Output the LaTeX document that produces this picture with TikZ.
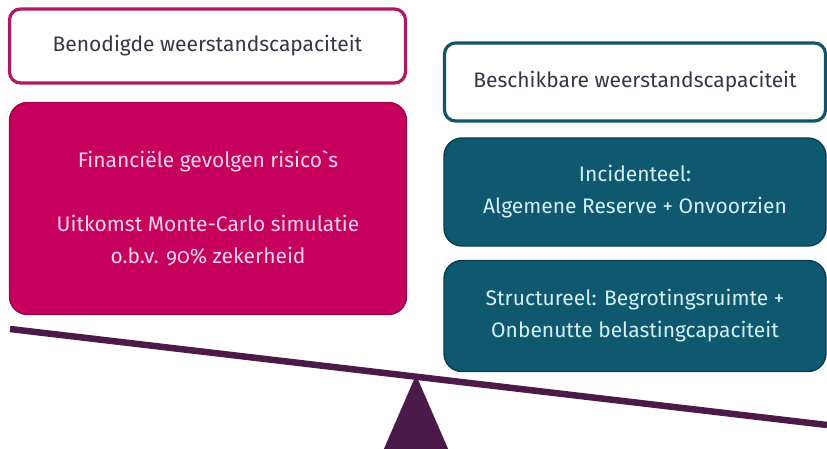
\documentclass[tikz,border=0pt]{standalone}
\usepackage{fontspec}
\setmainfont{Fira Sans}[Numbers=OldStyle]
\usepackage{tikz}
\usetikzlibrary{calc}

\definecolor{neededge}{RGB}{178,24,96}
\definecolor{riskpink}{RGB}{198,0,92}
\definecolor{riskedge}{RGB}{150,8,76}
\definecolor{availedge}{RGB}{18,84,104}
\definecolor{restteal}{RGB}{14,88,112}
\definecolor{tealedge}{RGB}{8,62,80}
\definecolor{boxtext}{RGB}{58,52,68}
\definecolor{pinktext}{RGB}{250,214,236}
\definecolor{tealtext}{RGB}{214,240,246}
\definecolor{beamcol}{RGB}{76,26,72}

\begin{document}
\begin{tikzpicture}[x=1pt,y=1pt,
    box/.style={rectangle,align=center,inner sep=0pt,font=\fontsize{21}{32}\selectfont},
    plainbox/.style={box,rounded corners=11pt,line width=3.2pt,fill=white,text=boxtext},
    fullbox/.style={box,rounded corners=18pt,line width=1.4pt}]
    \useasboundingbox (0,0) rectangle (827,448);
    % left side
    \node[plainbox,draw=neededge,minimum width=396pt,minimum height=74pt] (need) at (207.5,402) {Benodigde weerstandscapaciteit};
    \node[fullbox,draw=riskedge,fill=riskpink,text=pinktext,minimum width=397pt,minimum height=212pt] (risk) at (208,239.5)
        {Financi\"ele gevolgen risico\textasciigrave s\\[32pt]Uitkomst Monte-Carlo simulatie\\o.b.v. 90\% zekerheid};
    % right side
    \node[plainbox,draw=availedge,minimum width=381pt,minimum height=78pt] (avail) at (635,366) {Beschikbare weerstandscapaciteit};
    \node[fullbox,draw=tealedge,fill=restteal,text=tealtext,minimum width=382pt,minimum height=108pt] (inc) at (635,256)
        {Incidenteel:\\Algemene Reserve + Onvoorzien};
    \node[fullbox,draw=tealedge,fill=restteal,text=tealtext,minimum width=382pt,minimum height=111pt] (struct) at (635,132)
        {Structureel: Begrotingsruimte +\\Onbenutte belastingcapaciteit};
    % balance
    \coordinate (beamL) at (10,119);
    \coordinate (beamR) at (827,23);
    \coordinate (pivot) at (416,73);
    \fill[beamcol,rounded corners=1.5pt] (pivot) -- (383,-3) -- (449,-3) -- cycle;
    \draw[beamcol,line width=6.5pt] (beamL) -- (beamR);
\end{tikzpicture}
\end{document}
